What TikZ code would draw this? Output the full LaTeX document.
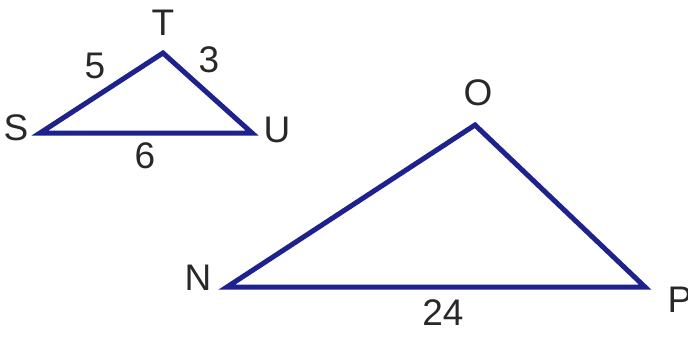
\documentclass[tikz,border=0pt]{standalone}
\usepackage{fontspec}
\setmainfont{Liberation Sans}
\definecolor{navy}{RGB}{30,34,140}
\definecolor{txt}{RGB}{40,40,40}
\begin{document}
\begin{tikzpicture}[x=1pt,y=-1pt,
  tri/.style={draw=navy,line width=5pt,line join=miter},
  lbl/.style={inner sep=0pt,text=txt,font=\fontsize{37}{37}\selectfont}]
\useasboundingbox (0,0) rectangle (688,337);
\coordinate (S) at (40,133);
\coordinate (T) at (163,53);
\coordinate (U) at (252,133);
\draw[tri] (S) -- (T) -- (U) -- cycle;
\coordinate (N) at (227,287);
\coordinate (O) at (475,125);
\coordinate (P) at (645,287);
\draw[tri] (N) -- (O) -- (P) -- cycle;
\node[lbl] (lT) at (163,23) {T};
\node[lbl] (lS) at (16,128) {S};
\node[lbl] (lU) at (277,130) {U};
\node[lbl] (l5) at (95,66) {5};
\node[lbl] (l3) at (209,60) {3};
\node[lbl] (l6) at (145,156) {6};
\node[lbl] (lO) at (478,93) {O};
\node[lbl] (lN) at (198,278) {N};
\node[lbl] (lP) at (680,300) {P};
\node[lbl] (l24) at (443,313) {24};
\end{tikzpicture}
\end{document}
